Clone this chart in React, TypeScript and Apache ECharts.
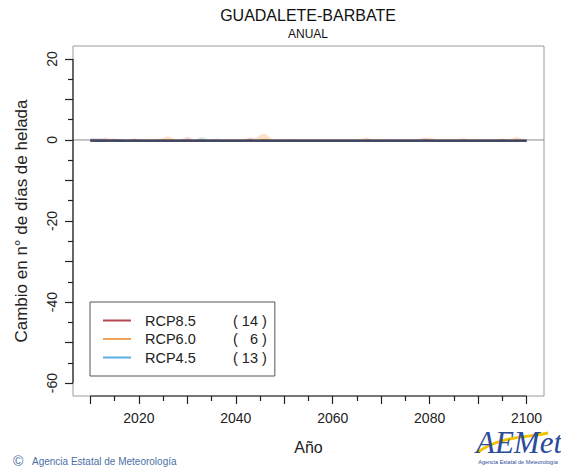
import React, { useEffect, useRef } from "react";
import * as echarts from "echarts";

// ---- data ----
const START_YEAR = 2010;
const END_YEAR = 2100;
const years: number[] = [];
for (let y = START_YEAR; y <= END_YEAR; y++) years.push(y);

const scenarios = ["RCP8.5", "RCP6.0", "RCP4.5"];
const modelCounts = [14, 6, 13];

const xTickLabels = [2020, 2040, 2060, 2080, 2100];
const xMajorTicks = [2010, 2020, 2030, 2040, 2050, 2060, 2070, 2080, 2090, 2100];
const xMinorTicks = [2015, 2025, 2035, 2045, 2055, 2065, 2075, 2085, 2095];
const yTickLabels = [-60, -40, -20, 0, 20];
const yMajorTicks = [-60, -50, -40, -30, -20, -10, 0, 10, 20];
const yMinorTicks = [-55, -45, -35, -25, -15, -5, 5, 15];
const X_MIN = 2006.4;
const X_MAX = 2103.6;
const Y_MIN = -63.2;
const Y_MAX = 23.2;
const ZERO = 0;

// ensemble mean per scenario
const m85 = [
  -0.1, -0.1, -0.2, -0.1, -0.2, -0.2, -0.1, -0.2, -0.2, -0.1,
  -0.2, -0.2, -0.2, -0.2, -0.2, -0.2, -0.2, -0.2, -0.2, -0.2,
  -0.1, -0.2, -0.2, -0.2, -0.2, -0.2, -0.2, -0.2, -0.2, -0.2,
  -0.2, -0.2, -0.2, -0.1, -0.2, -0.2, -0.2, -0.2, -0.2, -0.2,
  -0.2, -0.2, -0.2, -0.2, -0.2, -0.2, -0.2, -0.2, -0.2, -0.2,
  -0.2, -0.2, -0.2, -0.2, -0.2, -0.2, -0.2, -0.2, -0.2, -0.2,
  -0.2, -0.2, -0.2, -0.2, -0.2, -0.2, -0.2, -0.2, -0.2, -0.1,
  -0.2, -0.2, -0.2, -0.2, -0.2, -0.2, -0.2, -0.2, -0.2, -0.2,
  -0.2, -0.2, -0.2, -0.2, -0.2, -0.1, -0.2, -0.2, -0.2, -0.2,
  -0.2,
];
const m60 = [
  -0.2, -0.2, -0.2, -0.2, -0.1, -0.2, -0.2, -0.2, -0.2, -0.2,
  -0.2, -0.2, -0.2, -0.2, -0.2, -0.1, -0.1, -0.2, -0.2, -0.2,
  -0.2, -0.2, -0.2, -0.2, -0.2, -0.2, -0.2, -0.2, -0.2, -0.2,
  -0.2, -0.2, -0.2, -0.2, -0.2, -0.1, 0.0, -0.1, -0.2, -0.2,
  -0.2, -0.2, -0.2, -0.2, -0.2, -0.2, -0.2, -0.2, -0.2, -0.2,
  -0.2, -0.2, -0.2, -0.2, -0.2, -0.2, -0.2, -0.1, -0.2, -0.2,
  -0.2, -0.2, -0.2, -0.2, -0.2, -0.2, -0.2, -0.2, -0.2, -0.2,
  -0.1, -0.2, -0.2, -0.2, -0.2, -0.2, -0.2, -0.1, -0.2, -0.2,
  -0.2, -0.2, -0.2, -0.2, -0.2, -0.2, -0.2, -0.2, -0.1, -0.2,
  -0.2,
];
const m45 = [
  -0.1, -0.2, -0.1, -0.2, -0.2, -0.1, -0.2, -0.2, -0.2, -0.2,
  -0.2, -0.2, -0.2, -0.2, -0.2, -0.2, -0.2, -0.2, -0.2, -0.2,
  -0.2, -0.2, -0.2, -0.1, -0.2, -0.2, -0.2, -0.2, -0.2, -0.2,
  -0.2, -0.2, -0.2, -0.2, -0.2, -0.2, -0.2, -0.2, -0.2, -0.2,
  -0.2, -0.2, -0.2, -0.2, -0.2, -0.2, -0.2, -0.2, -0.2, -0.2,
  -0.2, -0.2, -0.2, -0.2, -0.2, -0.2, -0.2, -0.2, -0.2, -0.2,
  -0.2, -0.2, -0.2, -0.2, -0.2, -0.2, -0.2, -0.2, -0.2, -0.2,
  -0.2, -0.2, -0.2, -0.2, -0.2, -0.2, -0.2, -0.2, -0.2, -0.2,
  -0.2, -0.2, -0.2, -0.2, -0.2, -0.2, -0.2, -0.2, -0.2, -0.2,
  -0.2,
];

// ensemble spread (upper / lower) per scenario
const hi85 = [
  0.2, 0.5, 0.2, 0.6, 0.2, 0.1, 0.1, 0.1, 0.2, 0.4,
  0.1, 0.1, 0.2, 0.1, 0.1, 0.1, 0.2, 0.1, 0.1, 0.3,
  0.8, 0.3, 0.1, 0.1, 0.1, 0.2, 0.1, 0.1, 0.1, 0.1,
  0.1, 0.2, 0.3, 0.7, 0.2, 0.1, 0.1, 0.1, 0.1, 0.1,
  0.1, 0.1, 0.3, 0.1, 0.1, 0.1, 0.1, 0.1, 0.1, 0.1,
  0.1, 0.1, 0.1, 0.2, 0.1, 0.1, 0.1, 0.1, 0.1, 0.1,
  0.1, 0.1, 0.1, 0.1, 0.1, 0.1, 0.1, 0.2, 0.3, 0.6,
  0.2, 0.1, 0.1, 0.1, 0.1, 0.1, 0.1, 0.1, 0.1, 0.1,
  0.1, 0.1, 0.1, 0.1, 0.1, 0.3, 0.1, 0.1, 0.1, 0.1,
  0.1,
];
const lo85 = [
  -0.4, -0.5, -0.4, -0.5, -0.5, -0.4, -0.4, -0.5, -0.5, -0.4,
  -0.5, -0.5, -0.4, -0.5, -0.5, -0.5, -0.4, -0.5, -0.5, -0.5,
  -0.4, -0.5, -0.5, -0.5, -0.4, -0.5, -0.5, -0.5, -0.5, -0.4,
  -0.5, -0.5, -0.5, -0.4, -0.5, -0.5, -0.5, -0.5, -0.4, -0.5,
  -0.5, -0.5, -0.4, -0.5, -0.5, -0.5, -0.5, -0.5, -0.5, -0.4,
  -0.5, -0.5, -0.5, -0.5, -0.5, -0.4, -0.5, -0.5, -0.5, -0.5,
  -0.5, -0.4, -0.5, -0.5, -0.5, -0.5, -0.5, -0.5, -0.4, -0.4,
  -0.5, -0.5, -0.5, -0.5, -0.4, -0.5, -0.5, -0.5, -0.5, -0.5,
  -0.5, -0.5, -0.5, -0.4, -0.5, -0.4, -0.5, -0.5, -0.5, -0.5,
  -0.5,
];
const hi60 = [
  0.1, 0.2, 0.1, 0.2, 0.4, 0.2, 0.1, 0.1, 0.1, 0.1,
  0.1, 0.1, 0.1, 0.2, 0.3, 0.5, 0.9, 0.4, 0.1, 0.1,
  0.1, 0.1, 0.2, 0.1, 0.1, 0.1, 0.1, 0.1, 0.1, 0.1,
  0.1, 0.1, 0.1, 0.2, 0.4, 1.2, 1.6, 0.6, 0.1, 0.1,
  0.1, 0.1, 0.1, 0.1, 0.2, 0.1, 0.1, 0.1, 0.1, 0.1,
  0.1, 0.1, 0.1, 0.1, 0.1, 0.2, 0.3, 0.6, 0.2, 0.1,
  0.1, 0.1, 0.1, 0.1, 0.1, 0.1, 0.1, 0.1, 0.1, 0.2,
  0.7, 0.3, 0.1, 0.1, 0.1, 0.1, 0.2, 0.5, 0.2, 0.1,
  0.1, 0.1, 0.1, 0.1, 0.1, 0.1, 0.2, 0.4, 0.8, 0.3,
  0.1,
];
const lo60 = [
  -0.5, -0.4, -0.5, -0.5, -0.4, -0.5, -0.5, -0.5, -0.4, -0.5,
  -0.5, -0.5, -0.5, -0.4, -0.5, -0.4, -0.3, -0.4, -0.5, -0.5,
  -0.5, -0.4, -0.5, -0.5, -0.5, -0.5, -0.4, -0.5, -0.5, -0.5,
  -0.5, -0.5, -0.4, -0.5, -0.4, -0.3, -0.3, -0.4, -0.5, -0.5,
  -0.4, -0.5, -0.5, -0.5, -0.5, -0.5, -0.5, -0.4, -0.5, -0.5,
  -0.5, -0.5, -0.5, -0.5, -0.4, -0.5, -0.4, -0.4, -0.5, -0.5,
  -0.5, -0.5, -0.4, -0.5, -0.5, -0.5, -0.5, -0.5, -0.5, -0.4,
  -0.4, -0.5, -0.5, -0.5, -0.5, -0.4, -0.5, -0.4, -0.5, -0.5,
  -0.5, -0.5, -0.5, -0.5, -0.5, -0.5, -0.4, -0.5, -0.4, -0.5,
  -0.5,
];
const hi45 = [
  0.6, 0.3, 0.5, 0.3, 0.2, 0.4, 0.1, 0.1, 0.1, 0.1,
  0.1, 0.1, 0.1, 0.1, 0.1, 0.1, 0.1, 0.1, 0.2, 0.1,
  0.1, 0.2, 0.3, 0.8, 0.3, 0.1, 0.4, 0.1, 0.1, 0.1,
  0.1, 0.1, 0.1, 0.1, 0.1, 0.1, 0.2, 0.1, 0.1, 0.1,
  0.3, 0.1, 0.1, 0.1, 0.1, 0.1, 0.1, 0.1, 0.1, 0.1,
  0.1, 0.1, 0.1, 0.1, 0.1, 0.1, 0.1, 0.1, 0.1, 0.1,
  0.1, 0.3, 0.1, 0.1, 0.1, 0.1, 0.1, 0.1, 0.1, 0.1,
  0.1, 0.1, 0.1, 0.1, 0.1, 0.1, 0.1, 0.1, 0.1, 0.1,
  0.1, 0.1, 0.2, 0.1, 0.1, 0.1, 0.1, 0.1, 0.1, 0.1,
  0.1,
];
const lo45 = [
  -0.4, -0.5, -0.4, -0.5, -0.5, -0.4, -0.5, -0.5, -0.5, -0.5,
  -0.5, -0.4, -0.5, -0.5, -0.5, -0.5, -0.5, -0.4, -0.5, -0.5,
  -0.5, -0.5, -0.5, -0.4, -0.5, -0.5, -0.5, -0.5, -0.5, -0.4,
  -0.5, -0.5, -0.5, -0.5, -0.4, -0.5, -0.5, -0.5, -0.5, -0.5,
  -0.5, -0.4, -0.5, -0.5, -0.5, -0.5, -0.5, -0.5, -0.4, -0.5,
  -0.5, -0.5, -0.5, -0.4, -0.5, -0.5, -0.5, -0.5, -0.5, -0.5,
  -0.4, -0.5, -0.5, -0.5, -0.5, -0.5, -0.4, -0.5, -0.5, -0.5,
  -0.5, -0.5, -0.5, -0.5, -0.5, -0.4, -0.5, -0.5, -0.5, -0.5,
  -0.5, -0.5, -0.5, -0.5, -0.5, -0.5, -0.5, -0.4, -0.5, -0.5,
  -0.5,
];

const means = [m85, m60, m45];
const his = [hi85, hi60, hi45];
const los = [lo85, lo60, lo45];

// ---- styles ----
const FONT = "'Liberation Sans', Arial, Helvetica, sans-serif";
const legendColors = ["#b5474f", "#eea25a", "#5aaee0"];
const lineColors = ["#7a2e38", "#9a6a3a", "#34466b"];
const bandColors = ["rgba(181,71,79,0.2)", "rgba(238,162,90,0.32)", "rgba(90,174,224,0.26)"];

export default function App() {
  const ref = useRef<HTMLDivElement>(null);

  useEffect(() => {
    if (!ref.current) return;
    const chart = echarts.init(ref.current, null, { renderer: "svg" });

    const bandSeries = scenarios.map((name, k) => {
      const data = years.map((y, i) => [y, los[k][i], his[k][i]]);
      return {
        type: "custom",
        name: "band-" + name,
        z: 2,
        silent: true,
        data,
        encode: { x: 0, y: [1, 2] },
        renderItem: (params: any, api: any) => {
          if (params.dataIndex !== 0) return { type: "group", children: [] };
          const up = data.map((d) => api.coord([d[0], d[2]]));
          const dn = data.map((d) => api.coord([d[0], d[1]])).reverse();
          return {
            type: "polygon",
            shape: { points: up.concat(dn) },
            style: { fill: bandColors[k], stroke: "none" },
          };
        },
      };
    });

    const frameSeries = {
      type: "custom",
      name: "frame",
      z: 1,
      silent: true,
      data: [[xMajorTicks[0], ZERO]],
      renderItem: (params: any, api: any) => {
        const cs = params.coordSys;
        const yTop = api.coord([X_MIN, yTickLabels[yTickLabels.length - 1]])[1];
        const yBot = api.coord([X_MIN, yTickLabels[0]])[1];
        const xL = api.coord([xMajorTicks[0], ZERO])[0];
        const xR = api.coord([xMajorTicks[xMajorTicks.length - 1], ZERO])[0];
        const y0 = api.coord([X_MIN, ZERO])[1];
        const bottom = cs.y + cs.height;
        return {
          type: "group",
          children: [
            {
              type: "line",
              shape: { x1: cs.x, y1: y0, x2: cs.x + cs.width, y2: y0 },
              style: { stroke: "#8a8a8a", lineWidth: 1 },
            },
            {
              type: "line",
              shape: { x1: cs.x, y1: yTop, x2: cs.x, y2: yBot },
              style: { stroke: "#222", lineWidth: 1.2 },
            },
            {
              type: "line",
              shape: { x1: xL, y1: bottom, x2: xR, y2: bottom },
              style: { stroke: "#222", lineWidth: 1.2 },
            },
          ],
        };
      },
    };

    const lineSeries = scenarios.map((name, k) => ({
      type: "line",
      name,
      z: 3,
      data: years.map((y, i) => [y, means[k][i]]),
      symbol: "none",
      showSymbol: false,
      lineStyle: { color: lineColors[k], width: 2 },
      itemStyle: { color: lineColors[k] },
      silent: true,
    }));

    const axisCommon = {
      type: "value",
      axisLine: { show: false, onZero: false },
      splitLine: { show: false },
    };

    const option: any = {
      animation: false,
      backgroundColor: "#ffffff",
      textStyle: { fontFamily: FONT },
      grid: {
        left: 73,
        top: 46,
        right: 17,
        bottom: 73,
        show: true,
        borderColor: "#9a9a9a",
        borderWidth: 1,
        containLabel: false,
        outerBoundsMode: "none",
      },
      xAxis: [
        {
          ...axisCommon,
          position: "bottom",
          min: X_MIN,
          max: X_MAX,
          name: "Año",
          nameLocation: "middle",
          nameGap: 43,
          nameTextStyle: { fontSize: 16, color: "#222", fontFamily: FONT },
          axisTick: { show: true, customValues: xMajorTicks, length: 8, lineStyle: { color: "#222", width: 1.2 } },
          axisLabel: {
            show: true,
            customValues: xTickLabels,
            formatter: (v: number) => String(Math.round(v)),
            margin: 15,
            fontSize: 14,
            color: "#222",
            fontFamily: FONT,
          },
        },
        {
          ...axisCommon,
          position: "bottom",
          min: X_MIN,
          max: X_MAX,
          axisTick: { show: true, customValues: xMinorTicks, length: 5, lineStyle: { color: "#222", width: 1.2 } },
          axisLabel: { show: false },
        },
      ],
      yAxis: [
        {
          ...axisCommon,
          position: "left",
          min: Y_MIN,
          max: Y_MAX,
          name: "Cambio en n° de días de helada",
          nameLocation: "middle",
          nameRotate: 90,
          nameGap: 43,
          nameTextStyle: { fontSize: 17, color: "#222", fontFamily: FONT },
          axisTick: { show: true, customValues: yMajorTicks, length: 8, lineStyle: { color: "#222", width: 1.2 } },
          axisLabel: {
            show: true,
            customValues: yTickLabels,
            formatter: (v: number) => String(Math.round(v)),
            rotate: 90,
            margin: 14,
            fontSize: 14,
            color: "#222",
            fontFamily: FONT,
          },
        },
        {
          ...axisCommon,
          position: "left",
          min: Y_MIN,
          max: Y_MAX,
          axisTick: { show: true, customValues: yMinorTicks, length: 5, lineStyle: { color: "#222", width: 1.2 } },
          axisLabel: { show: false },
        },
      ],
      legend: {
        left: 90,
        top: 302,
        orient: "vertical",
        icon: "rect",
        itemWidth: 28,
        itemHeight: 2,
        itemGap: 3.5,
        padding: [11, 8, 11, 13],
        borderColor: "#555",
        borderWidth: 1,
        selectedMode: false,
        data: scenarios.map((name, k) => ({
          name,
          itemStyle: { color: legendColors[k] },
        })),
        formatter: (name: string) => {
          const k = scenarios.indexOf(name);
          const c = modelCounts[k];
          const cnt = c < 10 ? "(   " + c + " )" : "( " + c + " )";
          return "{a|" + name + "}{b|" + cnt + "}";
        },
        textStyle: {
          fontFamily: FONT,
          fontSize: 14.5,
          color: "#222",
          rich: {
            a: { width: 88, padding: [0, 0, 0, 9], fontSize: 14.5, fontFamily: FONT, color: "#222" },
            b: { fontSize: 14.5, fontFamily: FONT, color: "#222" },
          },
        },
      },
      graphic: [
        {
          type: "text",
          x: 308,
          y: 15,
          style: {
            text: "GUADALETE-BARBATE",
            font: "16px " + FONT,
            fill: "#111",
            textAlign: "center",
            textVerticalAlign: "middle",
          },
        },
        {
          type: "text",
          x: 308,
          y: 34,
          style: {
            text: "ANUAL",
            font: "12px " + FONT,
            fill: "#111",
            textAlign: "center",
            textVerticalAlign: "middle",
          },
        },
        {
          type: "text",
          x: 13,
          y: 461,
          style: {
            text: "©",
            font: "14px " + FONT,
            fill: "#4a6fa5",
            textAlign: "left",
            textVerticalAlign: "middle",
          },
        },
        {
          type: "text",
          x: 32,
          y: 461,
          style: {
            text: "Agencia Estatal de Meteorología",
            font: "10px " + FONT,
            fill: "#4a6fa5",
            textAlign: "left",
            textVerticalAlign: "middle",
          },
        },
        {
          type: "bezierCurve",
          shape: { x1: 478, y1: 452, x2: 548, y2: 433, cpx1: 500, cpy1: 436, cpx2: 525, cpy2: 438 },
          style: { stroke: "#f2c200", lineWidth: 3, fill: "none" },
        },
        {
          type: "text",
          x: 519,
          y: 442,
          style: {
            text: "AEMet",
            font: "italic 31px 'Liberation Serif', serif",
            fill: "#2b4b9b",
            textAlign: "center",
            textVerticalAlign: "middle",
          },
        },
        {
          type: "text",
          x: 518,
          y: 462,
          style: {
            text: "Agencia Estatal de Meteorología",
            font: "5.5px " + FONT,
            fill: "#2b4b9b",
            textAlign: "center",
            textVerticalAlign: "middle",
          },
        },
      ],
      series: [frameSeries, ...bandSeries, ...lineSeries],
    };

    chart.setOption(option);
    return () => chart.dispose();
  }, []);

  return (
    <div
      ref={ref}
      style={{ position: "fixed", left: 0, top: 0, width: 561, height: 469, background: "#fff" }}
    />
  );
}
